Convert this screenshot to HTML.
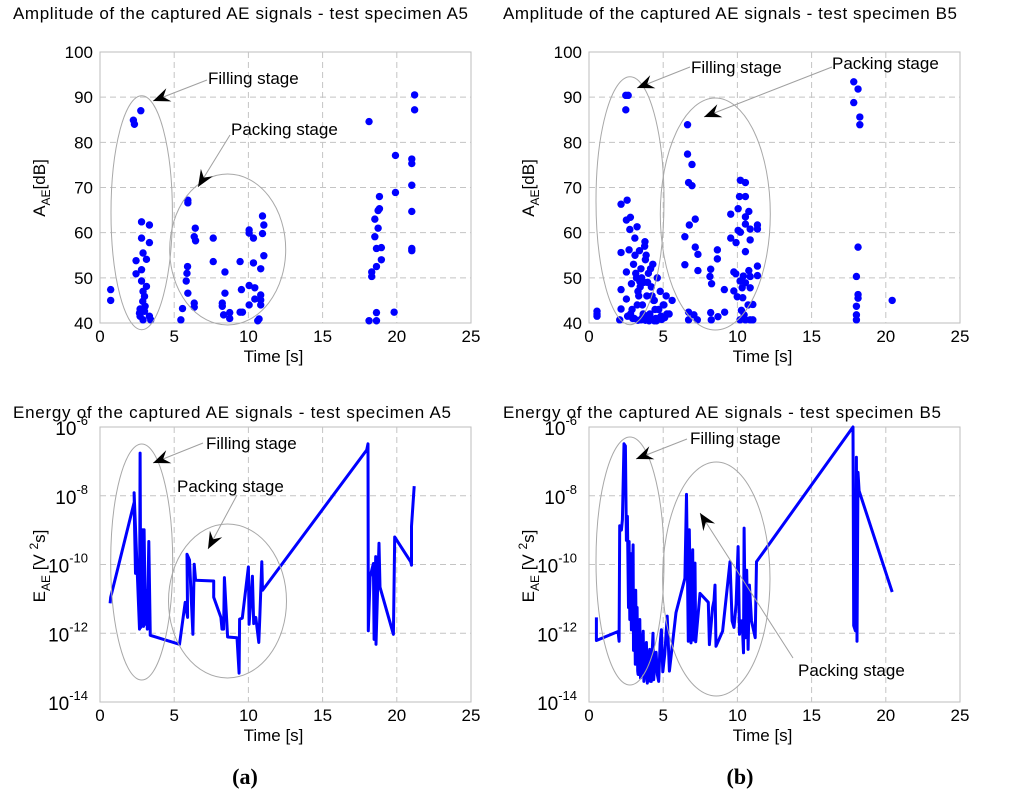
<!DOCTYPE html>
<html><head><meta charset="utf-8"><style>
body{margin:0;background:#fff}
svg{display:block;font-family:"Liberation Sans",sans-serif}
</style></head><body>
<svg id="fig" width="1024" height="803" viewBox="0 0 1024 803" xmlns="http://www.w3.org/2000/svg"></svg>
<script>
// ---- data ----
const ampA_x=[0.72,0.72,2.25,2.32,2.75,2.8,3.33,2.8,3.33,2.9,2.43,3.13,2.8,2.43,2.8,3.13,2.9,3.0,2.88,2.7,3.0,2.7,2.9,3.33,3.42,3.04,2.66,
5.92,5.92,6.42,6.35,6.44,5.9,5.86,5.81,5.92,6.35,6.35,5.56,5.45,7.63,7.63,8.42,8.42,8.24,8.24,8.33,8.74,8.74,9.44,9.53,9.44,9.6,10.05,10.05,10.34,10.05,10.34,10.43,10.05,10.43,10.72,10.63,10.95,11.04,10.95,11.04,10.83,10.83,10.83,10.83,
18.13,18.13,18.63,18.63,18.31,18.31,18.63,18.63,18.96,18.96,18.52,18.74,18.52,18.83,18.74,18.83,19.82,19.91,19.91,21.01,21.01,21.01,21.01,21.01,21.01,21.2,21.2];
const ampA_y=[47.4,45,84.9,84,87,62.4,61.7,58.8,57.8,55.5,53.8,54.1,51.8,50.9,49.3,48.1,47,45.9,44.8,43.1,42.6,41.5,40.7,41.5,40.7,43.7,42.2,
67.2,66.6,61,59.1,58.2,52.5,51,49.3,46.6,44.4,43.5,43.2,40.7,58.8,53.6,51.3,46.6,44.4,43.7,41.8,42.3,41,53.6,47.4,42.4,42.4,60.6,59.9,58.8,48.3,53.3,47.8,44,45.3,40.9,40.5,63.7,61.7,59.8,54.9,52,46.2,45.1,44,
84.6,40.5,42.3,40.5,51.3,50.3,52.5,56.5,56.7,54,59.1,61,63,65.3,64.9,68,42.4,68.9,77.1,76.3,75.3,70.5,64.7,56.5,56,90.5,87.2];
const ampB_x=[0.54,0.54,0.54,2.48,2.64,2.48,2.16,2.57,2.52,2.79,2.75,3.24,3.09,3.77,2.16,2.7,2.52,2.16,2.52,2.16,2.07,2.86,3.42,
3.0,3.1,3.2,3.3,3.4,3.5,3.6,3.7,3.8,3.9,4.0,4.1,4.2,4.3,4.4,4.5,4.6,4.7,4.8,5.0,5.2,5.4,5.6,3.05,3.25,3.45,3.65,3.85,4.05,4.25,4.45,4.65,4.85,5.05,5.25,3.15,3.35,3.55,3.75,3.95,4.15,4.35,4.55,2.9,2.95,3.6,3.8,4.0,4.2,4.4,3.3,3.5,3.7,4.9,5.1,2.6,2.8,
6.64,6.64,6.94,6.71,6.94,7.16,6.76,6.46,7.16,7.34,6.46,7.34,8.2,8.15,8.26,8.65,8.65,9.12,6.71,6.71,7.07,7.3,8.2,8.24,8.69,9.14,
10.2,10.54,10.14,10.54,10.05,10.77,9.55,10.54,10.54,11.35,11.35,10.86,10.05,10.2,9.55,9.91,10.86,10.54,11.35,11.35,9.76,9.89,10.77,10.4,10.86,10.18,10.54,10.32,10.86,9.76,9.99,10.36,10.72,11.04,10.27,10.18,10.54,10.86,11.04,10.45,
17.84,18.13,17.84,18.25,18.25,18.13,18.02,18.13,18.13,18.02,18.02,18.02,20.43];
const ampB_y=[42.6,41.5,42,90.4,90.4,87.2,66.3,67.2,62.8,63.4,60.7,61.3,58.8,58,55.6,56.2,51.3,47.4,45.3,43.1,40.7,48.7,49.2,
53,55,50,47,56,52,44,49,54,46,51,42,48,53,45,41,50,43,47,44,46,42,45,41,44,48,42,55,40.5,46,43,40.8,41.5,44,42,51,46,50,57,49,52,45,40.5,43,41,41.2,40.6,40.8,41,40.5,40.6,40.7,41.5,40.8,41.2,41.5,42,
83.9,77.4,75.1,71.1,70.4,63,61.7,59.1,56.8,55.2,52.9,51.6,51.9,50.3,48.7,56.2,54.2,47.4,42.4,40.7,41.8,40.7,42.3,40.7,41.4,42.4,
71.6,71.1,68,68,65.3,64.7,64.1,63.5,61.9,61.7,60.8,60.8,60.5,60.1,58.8,57.8,58.4,55.8,52.6,50.5,51.3,50.9,51.6,50.4,50.3,49.3,48.9,47.8,47.8,47.1,45.8,45.6,44,44.1,42.8,40.7,40.7,40.7,40.7,41.8,
93.4,91.8,88.8,85.6,83.9,56.8,50.3,46.3,45.5,43.7,41.8,40.7,45];
const enA_x=[0.68,0.72,2.3,2.39,2.3,2.66,2.7,2.75,2.88,2.93,2.97,3.06,3.1,3.19,3.29,3.38,3.38,5.36,5.74,5.9,5.86,6.03,6.26,6.35,6.44,7.66,7.66,8.15,8.22,8.33,8.38,8.6,9.23,9.37,9.41,9.59,10.0,10.05,10.27,10.36,10.5,10.7,10.77,10.9,10.95,11.04,17.97,18.06,18.08,18.2,18.42,18.47,18.58,18.6,18.8,18.87,19.77,19.86,20.94,20.99,20.99,21.17];
const enA_log=[-11.13,-10.95,-8.2,-10.26,-7.91,-11.88,-6.76,-11.83,-8.99,-11.8,-8.99,-11.74,-10.75,-11.88,-9.33,-11.93,-12.06,-12.32,-11.1,-11.54,-9.7,-9.87,-12.03,-9.99,-10.46,-10.48,-10.95,-11.54,-11.88,-11.88,-10.38,-12.11,-12.13,-13.16,-11.59,-11.56,-10.07,-11.74,-10.34,-11.72,-11.54,-12.27,-11.54,-9.92,-10.75,-10.7,-6.67,-6.49,-11.93,-10.36,-9.97,-12.18,-9.77,-12.32,-9.38,-10.66,-12.03,-9.2,-9.92,-10.02,-8.89,-7.72];
const enB_x=[0.5,0.5,1.96,2.03,2.07,2.18,2.25,2.36,2.45,2.52,2.59,2.66,2.7,2.75,2.79,2.86,2.97,3.0,3.05,3.09,3.12,3.15,3.2,3.24,3.28,3.31,3.36,3.42,3.47,3.53,3.58,3.65,3.7,3.76,3.82,3.87,3.93,3.98,4.03,4.09,4.14,4.2,4.25,4.31,4.36,4.43,4.52,4.6,4.7,4.79,4.88,4.97,5.11,5.27,5.42,5.86,6.46,6.57,6.69,6.76,6.87,6.99,7.03,7.14,7.19,7.48,8.04,8.11,8.33,8.42,8.49,8.56,9.0,9.5,9.64,9.77,9.91,10.05,10.14,10.23,10.32,10.41,10.45,10.54,10.63,10.72,10.81,10.95,11.2,11.29,17.79,17.84,17.95,18.02,18.06,18.13,18.2,20.43];
const enB_log=[-11.54,-12.21,-11.95,-12.23,-8.87,-9.0,-8.7,-6.49,-6.55,-9.3,-8.6,-11.25,-9.33,-11.6,-9.68,-11.9,-9.43,-12.5,-11.0,-11.83,-12.9,-10.75,-12.8,-11.25,-13.1,-13.2,-12.0,-11.6,-13.3,-12.9,-12.3,-11.94,-13.4,-13.2,-12.5,-12.27,-13.45,-13.3,-12.7,-12.47,-13.4,-13.4,-12.6,-12.0,-13.35,-12.9,-12.55,-13.2,-13.4,-12.3,-11.9,-13.12,-12.6,-11.5,-13.1,-11.4,-10.4,-7.96,-12.23,-8.99,-12.28,-9.57,-12.2,-9.96,-12.25,-10.84,-11.1,-12.33,-11.25,-11.05,-10.6,-12.38,-11.94,-9.92,-11.64,-11.83,-11.15,-9.48,-12.03,-11.64,-11.64,-12.57,-8.94,-12.13,-10.17,-12.47,-10.6,-11.64,-12.13,-9.92,-6.0,-11.78,-11.93,-6.88,-12.23,-7.32,-7.86,-10.8];
const ampTicks=[40,50,60,70,80,90,100];
const logTicks=[-14,-12,-10,-8,-6];
const xTicks=[0,5,10,15,20,25];

const svg=document.getElementById('fig');
const NS='http://www.w3.org/2000/svg';
function mk(tag,attrs,parent,txt){const e=document.createElementNS(NS,tag);for(const k in attrs)e.setAttribute(k,attrs[k]);if(txt!==undefined)e.textContent=txt;(parent||svg).appendChild(e);return e;}

function panel(L,T,R,B,ymin,ymax,yt,isLog,name){
  const g=mk('g',{});
  
  
  const sx=v=>L+(v-0)/25*(R-L);
  const sy=v=>B-(v-ymin)/(ymax-ymin)*(B-T);
  mk('rect',{x:L,y:T,width:R-L,height:B-T,fill:'#fff',stroke:'#bdbdbd','stroke-width':1},g);
  xTicks.forEach(t=>{
    if(t>0&&t<25){const l=mk('line',{x1:sx(t),x2:sx(t),y1:T,y2:B,stroke:'#c4c4c4','stroke-dasharray':'6,4','stroke-width':1},g);}
    const tx=mk('text',{x:sx(t),y:B+19,'font-size':17,'text-anchor':'middle',fill:'#000'},g,String(t));
    
  });
  yt.forEach(t=>{
    if(t>ymin&&t<ymax){const l=mk('line',{x1:L,x2:R,y1:sy(t),y2:sy(t),stroke:'#c4c4c4','stroke-dasharray':'6,4','stroke-width':1},g);}
    let tx;
    if(isLog){
      tx=mk('text',{x:L-12,y:sy(t)+8,'font-size':19,'text-anchor':'end',fill:'#000'},g);
      mk('tspan',{},tx,'10');mk('tspan',{dy:-10,'font-size':13},tx,String(t));
    } else tx=mk('text',{x:L-7,y:sy(t)+6,'font-size':17,'text-anchor':'end',fill:'#000'},g,String(t));
    
  });
  const xl=mk('text',{x:(L+R)/2-12,y:B+39,'font-size':17,'text-anchor':'middle'},g,'Time [s]');
  
  return {g,sx,sy};
}
function dots(p,xs,ys,name){
  const g=mk('g',{},p.g);
  
  xs.forEach((x,i)=>{const c=mk('circle',{cx:p.sx(x),cy:p.sy(ys[i]),r:3.7,fill:'#0000ff'},g);
    });
}
function line(p,xs,ys,name){
  const d=xs.map((x,i)=>(i?'L':'M')+p.sx(x).toFixed(1)+','+p.sy(ys[i]).toFixed(1)).join('');
  const e=mk('path',{d,fill:'none',stroke:'#0000ff','stroke-width':3,'stroke-linejoin':'round'},p.g);
  
}
function ell(cx,cy,rx,ry,name){const e=mk('ellipse',{cx,cy,rx,ry,fill:'none',stroke:'#a8a8a8','stroke-width':1});}
function arrow(x1,y1,x2,y2,name){
  const g=mk('g',{});
  mk('line',{x1,y1,x2,y2,stroke:'#a0a0a0','stroke-width':1},g);
  const a=Math.atan2(y2-y1,x2-x1),L=17,W=7,N=11;
  const p=(d,w)=>[x2-d*Math.cos(a)-w*Math.sin(a),y2-d*Math.sin(a)+w*Math.cos(a)];
  const pts=[[x2,y2],p(L,W),p(N,0),p(L,-W)].map(q=>q[0].toFixed(1)+','+q[1].toFixed(1)).join(' ');
  mk('polygon',{points:pts,fill:'#000'},g);
}
function txt(x,y,s,size,name,extra){const t=mk('text',Object.assign({x,y,'font-size':size,fill:'#000'},extra||{}),svg,s);return t;}

// titles
txt(13,19,'Amplitude of the captured AE signals - test specimen A5',17,'title-amplitude-a5',{textLength:455});
txt(503,19,'Amplitude of the captured AE signals - test specimen B5',17,'title-amplitude-b5',{textLength:454});
txt(13,418,'Energy of the captured AE signals - test specimen A5',17,'title-energy-a5',{textLength:438});
txt(503,418,'Energy of the captured AE signals - test specimen B5',17,'title-energy-b5',{textLength:438});

const pA=panel(100,52,471,323,40,100,ampTicks,false,'amplitude-a5-chart');
const pB=panel(589,52,960,323,40,100,ampTicks,false,'amplitude-b5-chart');
const eA=panel(100,427,471,702,-14,-6,logTicks,true,'energy-a5-chart');
const eB=panel(589,427,960,702,-14,-6,logTicks,true,'energy-b5-chart');
dots(pA,ampA_x,ampA_y,'amplitude-a5-series');
dots(pB,ampB_x,ampB_y,'amplitude-b5-series');
line(eA,enA_x,enA_log,'energy-a5-line');
line(eB,enB_x,enB_log,'energy-b5-line');

// y-axis titles
function ylab(x,y,main,sub,rest,name){const t=mk('text',{transform:`translate(${x},${y}) rotate(-90)`,'font-size':17,'text-anchor':'middle'});
  
  mk('tspan',{},t,main);mk('tspan',{'font-size':12,dy:5},t,sub);mk('tspan',{dy:-5},t,rest);}
ylab(45,188,'A','AE','[dB]','y-axis-title-a5');
ylab(534,188,'A','AE','[dB]','y-axis-title-b5');
function elab(x,name){const e1=mk('text',{transform:`translate(${x},566) rotate(-90)`,'font-size':17,'text-anchor':'middle'});

mk('tspan',{},e1,'E');mk('tspan',{'font-size':12,dy:5},e1,'AE');mk('tspan',{dy:-5},e1,' [V ');mk('tspan',{'font-size':12,dy:-7},e1,'2');mk('tspan',{dy:7},e1,'s]');}
elab(45,'y-axis-title-energy-a5');elab(534,'y-axis-title-energy-b5');

// annotations
ell(141.7,212.7,30.7,117,'filling-ellipse-a5');ell(227.7,249.5,58,75.5,'packing-ellipse-a5');
arrow(207,80,153,101,'filling-arrow-a5');arrow(230,135,198,187,'packing-arrow-a5');
txt(208,84,'Filling stage',17,'filling-label-a5');txt(231,135,'Packing stage',17,'packing-label-a5');

ell(630,200.7,34,124,'filling-ellipse-b5');ell(715.3,214,55,116,'packing-ellipse-b5');
arrow(690,67,637,88,'filling-arrow-b5');arrow(832,67,704,117,'packing-arrow-b5');
txt(691,73,'Filling stage',17,'filling-label-b5');txt(832,69,'Packing stage',17,'packing-label-b5');

ell(141.7,562,31,118,'filling-ellipse-energy-a5');ell(227.5,601,59,77,'packing-ellipse-energy-a5');
arrow(203,443,153,463,'filling-arrow-energy-a5');arrow(237,495,208,549,'packing-arrow-energy-a5');
txt(206,449,'Filling stage',17,'filling-label-energy-a5');txt(177,492,'Packing stage',17,'packing-label-energy-a5');

ell(630,561,34,124,'filling-ellipse-energy-b5');ell(716.3,579,53.7,117,'packing-ellipse-energy-b5');
arrow(687,439,636,459,'filling-arrow-energy-b5');arrow(793,658,700,513,'packing-arrow-energy-b5');
txt(690,444,'Filling stage',17,'filling-label-energy-b5');txt(798,676,'Packing stage',17,'packing-label-energy-b5');

// panel letters
const la=txt(245,784,'',22,'panel-label-a',{'text-anchor':'middle','font-family':'Liberation Serif, serif','font-weight':'bold'});
la.textContent='(a)';
const lb=txt(740,784,'',22,'panel-label-b',{'text-anchor':'middle','font-family':'Liberation Serif, serif','font-weight':'bold'});
lb.textContent='(b)';
</script>
</body></html>
